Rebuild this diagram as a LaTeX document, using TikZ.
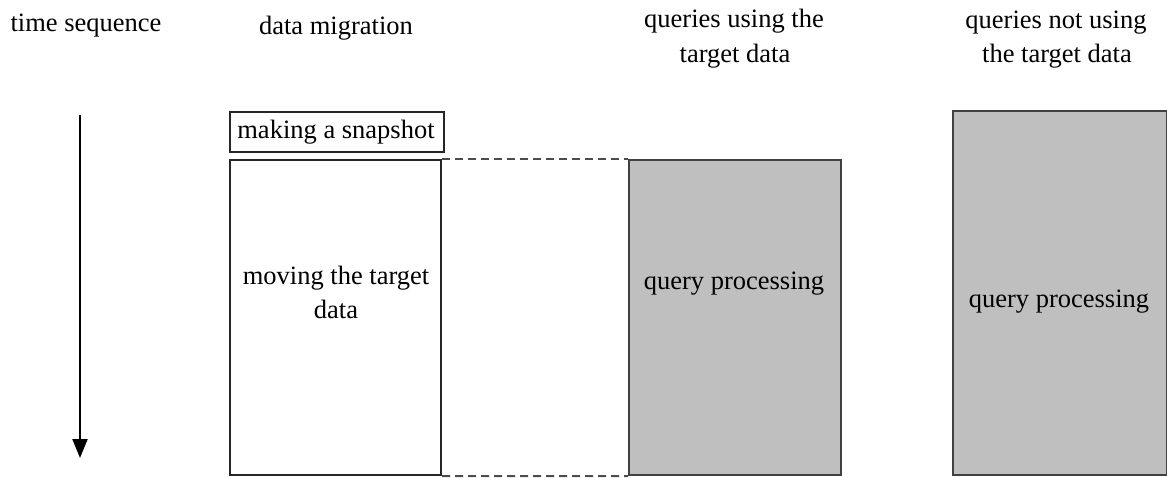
\documentclass[tikz,border=0pt]{standalone}
\usepackage{fontspec}
\setmainfont{Liberation Serif}
\usetikzlibrary{arrows.meta}
\begin{document}
\begin{tikzpicture}[x=1pt,y=-1pt,
  lbl/.style={font=\fontsize{26.5}{34}\selectfont, inner sep=0pt, anchor=base},
  plainbox/.style={draw=black!85, line width=2pt, fill=white, inner sep=0pt},
  graybox/.style={draw=black!75, line width=2.2pt, fill=black!25, inner sep=0pt},
  dashline/.style={draw=black!70, line width=2pt, dash pattern=on 8pt off 5pt}]
\useasboundingbox (0,0) rectangle (1167,478);
\node[plainbox, minimum width=214pt, minimum height=40pt, anchor=north west] (snap) at (229,111) {};
\node[plainbox, minimum width=211pt, minimum height=315pt, anchor=north west] (move) at (229,159) {};
\node[graybox, minimum width=212pt, minimum height=315pt, anchor=north west] (q1) at (628,159) {};
\node[graybox, minimum width=214pt, minimum height=364pt, anchor=north west] (q2) at (952,110) {};
\node[lbl] (ts) at (86,32) {time sequence};
\node[lbl] (dm) at (336,35) {data migration};
\node[lbl] (qu1) at (734,28) {queries using the};
\node[lbl] (qu2) at (735,63) {target data};
\node[lbl] (qn1) at (1056,29) {queries not using};
\node[lbl] (qn2) at (1057,63) {the target data};
\node[lbl] (snaptext) at (336,139) {making a snapshot};
\node[lbl] (mv1) at (336,285) {moving the target};
\node[lbl] (mv2) at (336,318) {data};
\node[lbl] (qp1) at (734,290) {query processing};
\node[lbl] (qp2) at (1059,308) {query processing};
\coordinate (a1) at (80,115);
\coordinate (a2) at (80,458);
\draw[line width=2pt, -{Triangle[length=19pt,width=15pt]}] (a1) -- (a2);
\draw[dashline] (move.north east) -- (q1.north west);
\draw[dashline] (move.south east) -- (q1.south west);
\end{tikzpicture}
\end{document}
